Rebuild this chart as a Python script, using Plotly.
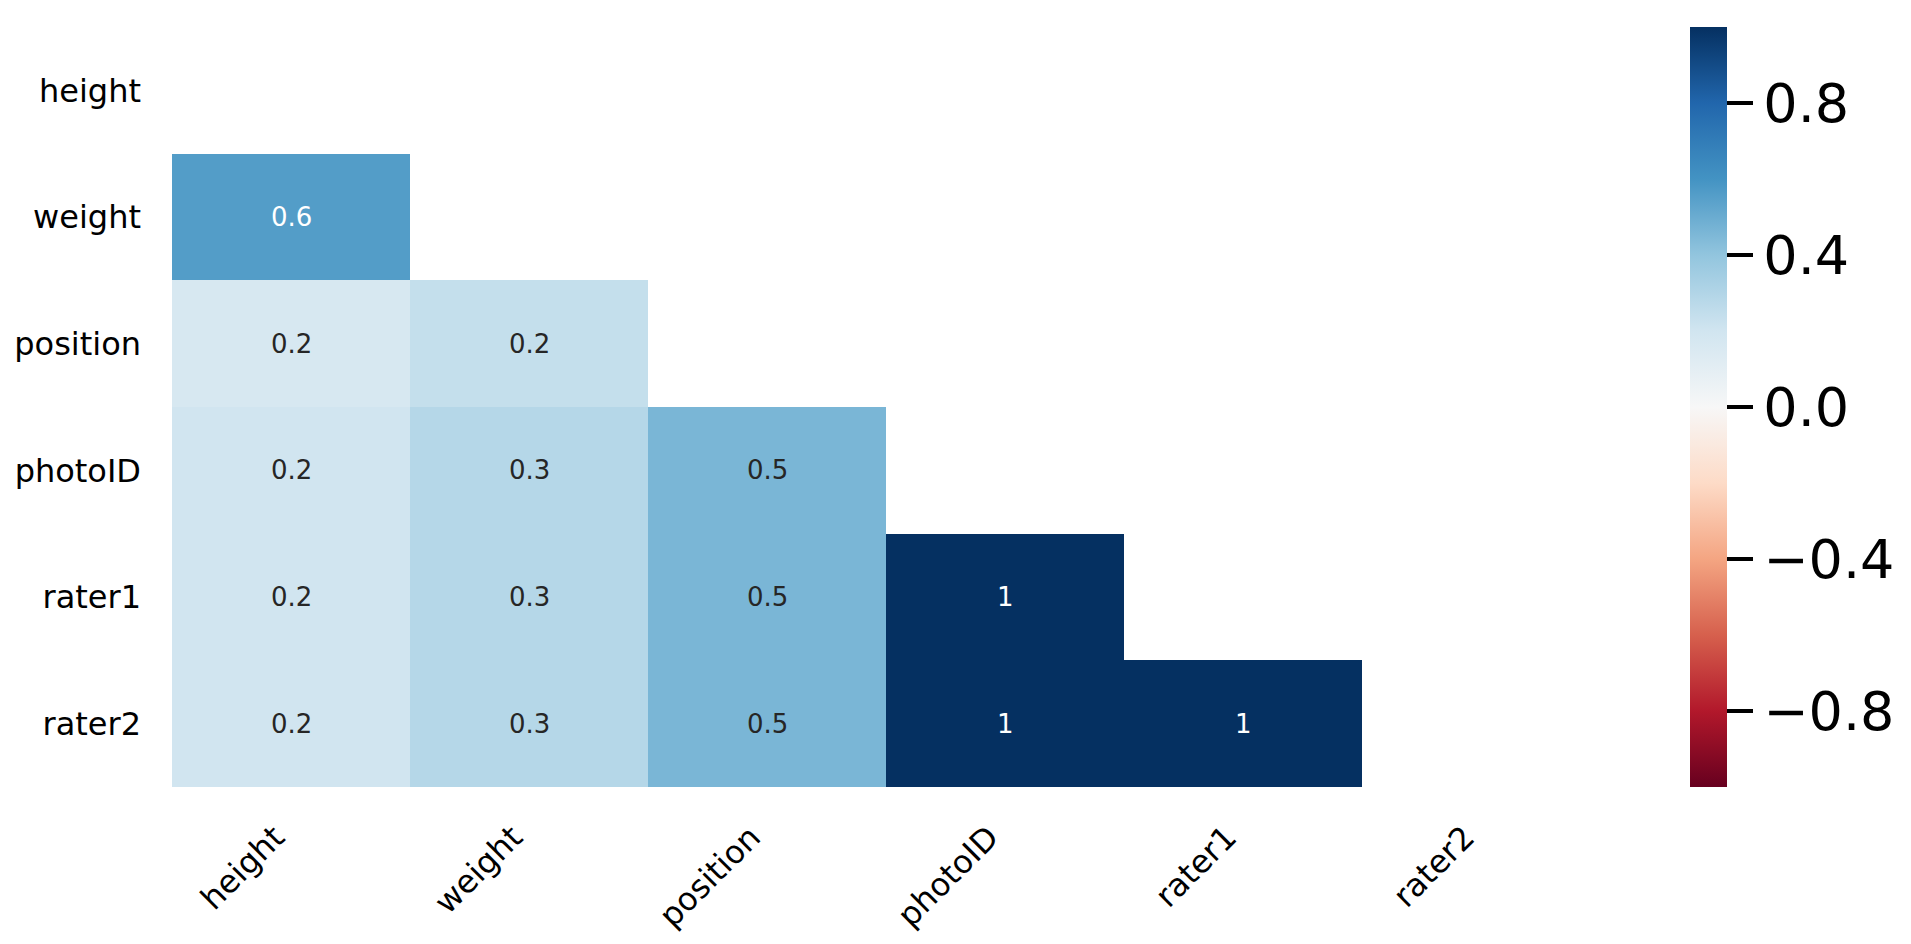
import plotly.graph_objects as go

labels = ["height", "weight", "position", "photoID", "rater1", "rater2"]

# lower-triangle nullity correlation values (row i, columns 0..i-1)
row_weight = [0.56]
row_position = [0.17, 0.24]
row_photoID = [0.20, 0.29, 0.46]
row_rater1 = [0.20, 0.29, 0.46, 1.0]
row_rater2 = [0.20, 0.29, 0.46, 1.0, 1.0]

lower_rows = [[], row_weight, row_position, row_photoID, row_rater1, row_rater2]

n = len(labels)
z = []
for i, r in enumerate(lower_rows):
    z.append(list(r) + [None] * (n - len(r)))

rdbu = ["#67001f", "#b2182b", "#d6604d", "#f4a582", "#fddbc7", "#f7f7f7",
        "#d1e5f0", "#92c5de", "#4393c3", "#2166ac", "#053061"]
colorscale = [[k / 10, c] for k, c in enumerate(rdbu)]

cbar_vals = [0.8, 0.4, 0.0, -0.4, -0.8]
cbar_text = ["0.8", "0.4", "0.0", "\u22120.4", "\u22120.8"]

FONT = "DejaVu Sans"

fig = go.Figure(go.Heatmap(
    z=z,
    x=list(range(n)),
    y=list(range(n)),
    zmin=-1, zmax=1,
    colorscale=colorscale,
    hoverinfo="skip",
    colorbar=dict(
        thickness=37, thicknessmode="pixels",
        len=1, lenmode="fraction",
        x=1.063, xanchor="left", xpad=0,
        y=0.5, yanchor="middle", ypad=0,
        outlinewidth=0,
        ticks="outside", ticklen=26, tickwidth=3.5, tickcolor="black",
        tickvals=cbar_vals, ticktext=cbar_text,
        tickfont=dict(family=FONT, size=54, color="black"),
    ),
))

annotations = []
for i, r in enumerate(lower_rows):
    for j, v in enumerate(r):
        txt = "1" if v == 1 else f"{round(v, 1):.1f}"
        col = "white" if abs(v) > 0.52 else "#262626"
        annotations.append(dict(
            x=j, y=i, xref="x", yref="y", text=txt, showarrow=False,
            font=dict(family=FONT, size=26, color=col),
        ))

fig.update_layout(
    width=1911, height=944,
    margin=dict(l=172, r=311, t=27, b=157, autoexpand=False),
    paper_bgcolor="white", plot_bgcolor="white",
    annotations=annotations,
    font=dict(family=FONT, color="black"),
    xaxis=dict(
        tickmode="array", tickvals=list(range(n)), ticktext=labels,
        tickangle=-45, showgrid=False, zeroline=False, showline=False,
        range=[-0.5, n - 0.5], ticks="", ticklabelstandoff=24,
        ticklabelshift=-16, automargin=False,
        tickfont=dict(family=FONT, size=32, color="black"),
    ),
    yaxis=dict(
        tickmode="array", tickvals=list(range(n)), ticktext=labels,
        autorange=False, range=[n - 0.5, -0.5],
        showgrid=False, zeroline=False, showline=False,
        ticks="", ticklabelstandoff=30, automargin=False,
        tickfont=dict(family=FONT, size=32, color="black"),
    ),
)

fig.write_html("out.html")
